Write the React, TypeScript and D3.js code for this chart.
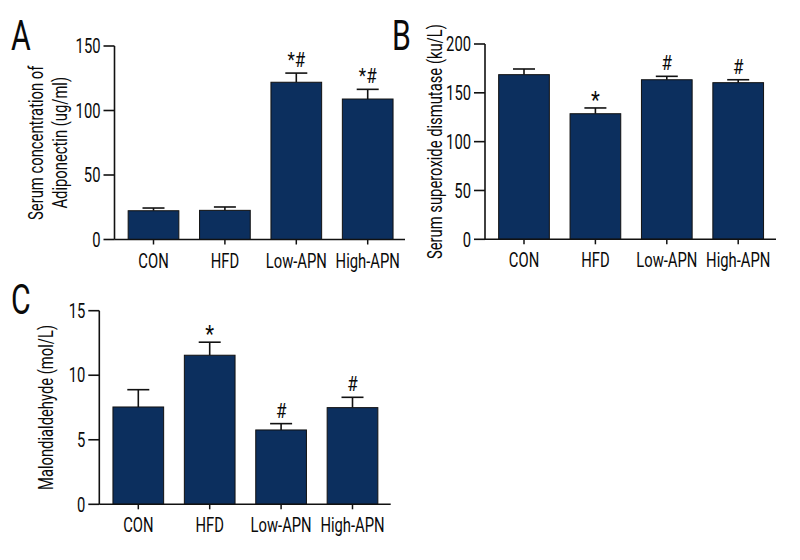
import React from "react";
import * as d3 from "d3";

const categories = ["CON", "HFD", "Low-APN", "High-APN"];

const adiponectinMean = [22.3, 22.6, 121.9, 108.9];
const adiponectinErr = [2.1, 2.6, 7.1, 7.5];
const adiponectinMarks = ["", "", "*#", "*#"];
const adiponectinTicks = [0, 50, 100, 150];

const sodMean = [168.6, 128.6, 163.4, 160.4];
const sodErr = [5.8, 5.9, 3.5, 3.0];
const sodMarks = ["", "*", "#", "#"];
const sodTicks = [0, 50, 100, 150, 200];

const mdaMean = [7.54, 11.55, 5.76, 7.49];
const mdaErr = [1.34, 1.01, 0.49, 0.8];
const mdaMarks = ["", "*", "#", "#"];
const mdaTicks = [0, 5, 10, 15];

const FONT = "Roboto, 'Liberation Sans', sans-serif";
const BAR = "#0c2f5e";
const SX = 0.74;

type TProps = {
  x: number;
  y: number;
  size: number;
  anchor?: string;
  rotate?: number;
  sx?: number;
  dy?: string;
  children: React.ReactNode;
};

function T({ x, y, size, anchor = "start", rotate = 0, sx = SX, dy, children }: TProps) {
  return (
    <text
      transform={`translate(${x},${y}) rotate(${rotate}) scale(${sx},1)`}
      textAnchor={anchor}
      fontSize={size}
      dy={dy}
    >
      {children}
    </text>
  );
}

type PanelProps = {
  letter: string;
  letterX: number;
  letterY: number;
  axisX: number;
  axisEnd: number;
  yBottom: number;
  yTop: number;
  yMax: number;
  ticks: number[];
  means: number[];
  errs: number[];
  marks: string[];
  titleLines: string[];
  titleX: number[];
};

function Panel(p: PanelProps) {
  const y = d3.scaleLinear().domain([0, p.yMax]).range([p.yBottom, p.yTop]);
  const x = d3
    .scaleBand<string>()
    .domain(categories)
    .range([p.axisX + 3.3, p.axisX + 288.9])
    .paddingInner(0.29)
    .paddingOuter(0.145);
  const bw = x.bandwidth();
  const cap = 22;
  const midY = (p.yBottom + p.yTop) / 2;
  return (
    <g fontFamily={FONT} fill="#0a0a0a">
      <T x={p.letterX} y={p.letterY} size={42} sx={0.72}>
        {p.letter}
      </T>
      {p.titleLines.map((t, i) => (
        <T key={t} x={p.titleX[i]} y={midY} rotate={-90} anchor="middle" size={20}>
          {t}
        </T>
      ))}
      {categories.map((c, i) => {
        const x0 = x(c) as number;
        const cx = x0 + bw / 2;
        const top = y(p.means[i]);
        const et = y(p.means[i] + p.errs[i]);
        return (
          <g key={c}>
            <line x1={cx} x2={cx} y1={top} y2={et} stroke="#111" strokeWidth={1.6} />
            <line x1={cx - cap / 2} x2={cx + cap / 2} y1={et} y2={et} stroke="#111" strokeWidth={1.6} />
            <rect x={x0} y={top} width={bw} height={p.yBottom - top} fill={BAR} stroke="#111" strokeWidth={1} />
            {p.marks[i] && (
              <T x={cx} y={et - (p.marks[i] === "*" ? 0 : 6)} anchor="middle" size={p.marks[i] === "*" ? 24 : 20} sx={0.85}>
                {p.marks[i]}
              </T>
            )}
            <line x1={cx} x2={cx} y1={p.yBottom} y2={p.yBottom + 5} stroke="#111" strokeWidth={1.5} />
            <T x={cx} y={p.yBottom + 28} anchor="middle" size={20}>
              {c}
            </T>
          </g>
        );
      })}
      <line x1={p.axisX} x2={p.axisX} y1={p.yTop} y2={p.yBottom} stroke="#111" strokeWidth={1.6} />
      <line x1={p.axisX} x2={p.axisEnd} y1={p.yBottom} y2={p.yBottom} stroke="#111" strokeWidth={1.6} />
      {p.ticks.map((t) => (
        <g key={t}>
          <line x1={p.axisX - 11} x2={p.axisX} y1={y(t)} y2={y(t)} stroke="#111" strokeWidth={1.6} />
          <T x={p.axisX - 14} y={y(t)} dy="0.36em" anchor="end" size={20}>
            {t}
          </T>
        </g>
      ))}
    </g>
  );
}

export default function App() {
  return (
    <svg
      width={800}
      height={560}
      style={{ position: "absolute", left: 0, top: 0, background: "#fff" }}
    >
      <rect width={800} height={560} fill="#fff" />
      <Panel
        letter="A"
        letterX={11}
        letterY={50}
        axisX={114.5}
        axisEnd={405}
        yBottom={239.5}
        yTop={46}
        yMax={150}
        ticks={adiponectinTicks}
        means={adiponectinMean}
        errs={adiponectinErr}
        marks={adiponectinMarks}
        titleLines={["Serum concentration of", "Adiponectin (ug/ml)"]}
        titleX={[43, 67]}
      />
      <Panel
        letter="B"
        letterX={392}
        letterY={50}
        axisX={485}
        axisEnd={776}
        yBottom={239.3}
        yTop={44}
        yMax={200}
        ticks={sodTicks}
        means={sodMean}
        errs={sodErr}
        marks={sodMarks}
        titleLines={["Serum superoxide dismutase (ku/L)"]}
        titleX={[442]}
      />
      <Panel
        letter="C"
        letterX={11}
        letterY={314}
        axisX={99.3}
        axisEnd={390.7}
        yBottom={504.3}
        yTop={310.7}
        yMax={15}
        ticks={mdaTicks}
        means={mdaMean}
        errs={mdaErr}
        marks={mdaMarks}
        titleLines={["Malondialdehyde (mol/L)"]}
        titleX={[53]}
      />
    </svg>
  );
}
